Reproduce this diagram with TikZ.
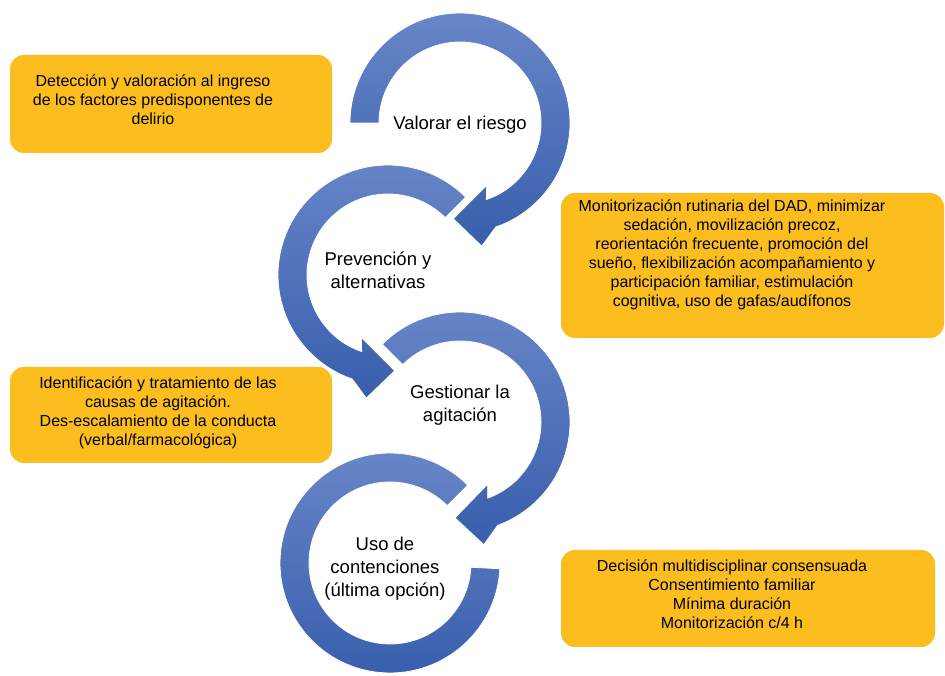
\documentclass[tikz,border=0pt]{standalone}
\usepackage{fontspec}
\setmainfont{Liberation Sans}
\usetikzlibrary{calc}
\definecolor{boxor}{RGB}{252,190,30}
\definecolor{arctop}{RGB}{104,134,200}
\definecolor{arcbot}{RGB}{56,94,172}
\begin{document}
\begin{tikzpicture}[x=1pt,y=1pt,
  infobox/.style={rectangle, rounded corners=14pt, fill=boxor, draw=none, inner sep=0pt},
  infotext/.style={align=center, font=\fontsize{16}{19}\selectfont, inner sep=0pt},
  steptext/.style={align=center, font=\fontsize{18.5}{23}\selectfont, inner sep=0pt},
  arcfill/.style={top color=arctop, bottom color=arcbot, draw=white, line width=0.8pt}]
\useasboundingbox (0,0) rectangle (945,676);
\fill[white] (0,0) rectangle (945,676);

% centres of the four circular arrows
\coordinate (c1) at (460,553);
\coordinate (c2) at (388,401);
\coordinate (c3) at (460,254);
\coordinate (c4) at (390,113);

% arrow 1 (clockwise)
\begin{scope}[shift={(c1)}]
\path[arcfill] (180:110) arc[start angle=180, end angle=-71, radius=110]
  -- (-80:125) -- (-94:96) -- (-67:68) -- (-71:81)
  arc[start angle=-71, end angle=180, radius=81] -- cycle;
\end{scope}
% arrow 2 (counter-clockwise)
\begin{scope}[shift={(c2)}]
\path[arcfill] (45:110) arc[start angle=45, end angle=251, radius=110]
  -- (260:125) -- (274:96) -- (247:68) -- (251:81)
  arc[start angle=251, end angle=45, radius=81] -- cycle;
\end{scope}
% arrow 3 (clockwise)
\begin{scope}[shift={(c3)}]
\path[arcfill] (135:110) arc[start angle=135, end angle=-70, radius=110]
  -- (-79:125) -- (-93:96) -- (-66:68) -- (-70:81)
  arc[start angle=-70, end angle=135, radius=81] -- cycle;
\end{scope}
% arc 4 (no head)
\begin{scope}[shift={(c4)}]
\path[arcfill] (-3:110) arc[start angle=-3, end angle=-315, radius=110]
  -- (-315:81) arc[start angle=-315, end angle=-3, radius=81] -- cycle;
\end{scope}

% step labels
\node[steptext] (s1) at (460,551) {Valorar el riesgo};
\node[steptext] (s2) at (378,405.5) {Prevención y\\alternativas};
\node[steptext] (s3) at (460,270.5) {Gestionar la\\agitación};
\node[steptext] (s4) at (385,107.5) {Uso de\\contenciones\\(última opción)};

% boxes
\node[infobox, minimum width=322pt, minimum height=98pt] (b1) at (171,572) {};
\node[infotext] (t1) at (153,576) {Detección y valoración al ingreso\\de los factores predisponentes de\\delirio};

\node[infobox, minimum width=383pt, minimum height=145pt] (b2) at (752.5,410.5) {};
\node[infotext] (t2) at (732,421) {Monitorización rutinaria del DAD, minimizar\\sedación, movilización precoz,\\reorientación frecuente, promoción del\\sueño, flexibilización acompañamiento y\\participación familiar, estimulación\\cognitiva, uso de gafas/audífonos};

\node[infobox, minimum width=322pt, minimum height=96pt] (b3) at (171,261) {};
\node[infotext] (t3) at (158,263.5) {Identificación y tratamiento de las\\causas de agitación.\\Des-escalamiento de la conducta\\(verbal/farmacológica)};

\node[infobox, minimum width=374pt, minimum height=97pt] (b4) at (748,77.5) {};
\node[infotext] (t4) at (732,82) {Decisión multidisciplinar consensuada\\Consentimiento familiar\\Mínima duración\\Monitorización c/4 h};
\end{tikzpicture}
\end{document}
